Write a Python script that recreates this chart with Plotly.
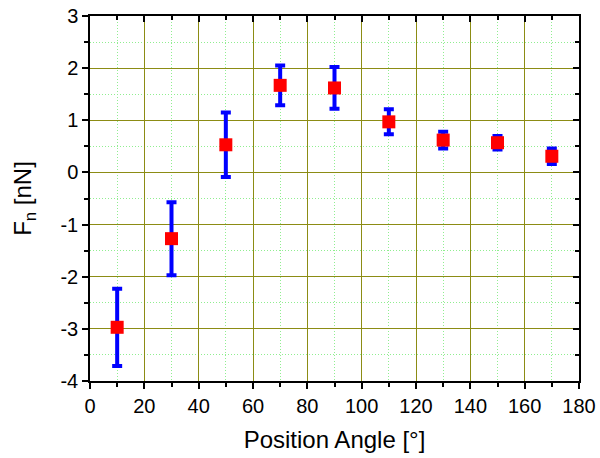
import plotly.graph_objects as go

angles = [10, 30, 50, 70, 90, 110, 130, 150, 170]
fn = [-2.97, -1.27, 0.53, 1.67, 1.62, 0.97, 0.62, 0.57, 0.31]
err = [0.74, 0.70, 0.62, 0.38, 0.40, 0.24, 0.16, 0.13, 0.15]

xticks = [0, 20, 40, 60, 80, 100, 120, 140, 160, 180]
yticks = [-4, -3, -2, -1, 0, 1, 2, 3]
ytext = [str(v) for v in yticks]

font = "Liberation Sans, Arial, sans-serif"

fig = go.Figure()
fig.add_trace(go.Scatter(
    x=angles, y=fn, mode="markers",
    marker=dict(symbol="square", size=13, color="#ff0000"),
    error_y=dict(type="data", array=err, color="#0000ff", thickness=4, width=5),
    showlegend=False,
))
fig.add_trace(go.Scatter(x=[None], y=[None], xaxis="x2", yaxis="y2",
                         showlegend=False, hoverinfo="skip"))

grid_major = "#8c8c14"
grid_minor = "#90ee90"

fig.update_layout(
    width=600, height=458,
    margin=dict(l=90, r=21, t=16, b=77),
    paper_bgcolor="white", plot_bgcolor="white",
    font=dict(family=font, size=20, color="black"),
    xaxis=dict(
        range=[0, 180], tickvals=xticks, ticks="outside", ticklen=6, tickwidth=1.5,
        tickcolor="black", showline=True, linecolor="black", linewidth=1.5,
        showgrid=True, gridcolor=grid_major, gridwidth=1, zeroline=False,
        automargin=False,
        minor=dict(dtick=10, ticks="outside", ticklen=4, tickcolor="black",
                   showgrid=True, gridcolor=grid_minor, griddash="1px,2px", gridwidth=1),
        title=dict(text="Position Angle [°]", font=dict(size=24), standoff=15),
        tickfont=dict(size=20),
    ),
    yaxis=dict(
        range=[-4, 3], tickvals=yticks, ticktext=ytext, ticks="outside", ticklen=6,
        tickwidth=1.5, tickcolor="black", showline=True, linecolor="black",
        linewidth=1.5, showgrid=True, gridcolor=grid_major, gridwidth=1,
        zeroline=False, automargin=False,
        minor=dict(dtick=0.5, ticks="outside", ticklen=4, tickcolor="black",
                   showgrid=True, gridcolor=grid_minor, griddash="1px,2px", gridwidth=1),
        title=dict(text="F<sub>n</sub> [nN]", font=dict(size=24), standoff=22),
        tickfont=dict(size=20),
    ),
    xaxis2=dict(
        range=[0, 180], overlaying="x", side="top", tickvals=xticks,
        showticklabels=False, ticks="inside", ticklen=6, tickwidth=1.5,
        tickcolor="black", showline=True, linecolor="black", linewidth=1.5,
        showgrid=False, zeroline=False, automargin=False,
        minor=dict(dtick=10, ticks="inside", ticklen=4, tickcolor="black", showgrid=False),
    ),
    yaxis2=dict(
        range=[-4, 3], overlaying="y", side="right", tickvals=yticks,
        showticklabels=False, ticks="inside", ticklen=6, tickwidth=1.5,
        tickcolor="black", showline=True, linecolor="black", linewidth=1.5,
        showgrid=False, zeroline=False, automargin=False,
        minor=dict(dtick=0.5, ticks="inside", ticklen=4, tickcolor="black", showgrid=False),
    ),
)

fig.write_html(
    "out.html",
    config={"displayModeBar": False},
    post_script="document.body.style.margin='0';document.body.style.overflow='hidden';",
)
